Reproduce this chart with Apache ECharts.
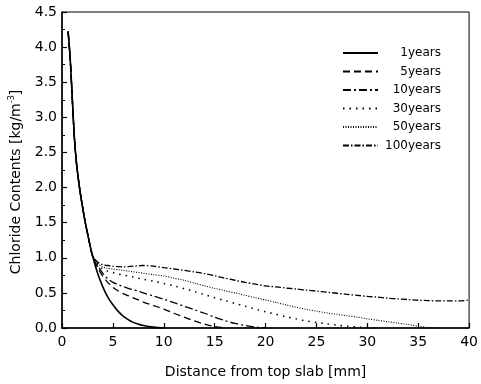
<!DOCTYPE html>
<html>
<head>
<meta charset="utf-8">
<script src="https://cdn.jsdelivr.net/npm/echarts@6/dist/echarts.min.js"></script>
<style>
  html, body { margin: 0; padding: 0; background: #fff; }
  #chart { width: 481px; height: 384px; }
</style>
</head>
<body>
<div id="chart"></div>
<script>
// Depth grid (mm) shared by all profiles
const distance = [0.6, 0.8, 1.0, 1.2, 1.4, 1.6, 1.8, 2.0, 2.25, 2.5, 2.75, 3.0,
  3.5, 4, 4.5, 5, 5.5, 6, 6.5, 7, 7.5, 8, 9, 10, 11, 12, 13, 14, 15, 16, 17, 18, 19, 20,
  21, 22, 23, 24, 25, 26, 27, 28, 29, 30, 31, 32, 33, 34, 35, 36, 37, 38, 39, 40];

// Surface zone, common to every exposure time (0.6 .. 3.0 mm)
const surface = [4.22, 3.85, 3.3, 2.75, 2.38, 2.13, 1.92, 1.74, 1.53, 1.35, 1.18, 1.03];

// Chloride content beyond 3 mm, per exposure time (kg/m3)
const years1 = [0.78, 0.59, 0.44, 0.33, 0.24, 0.17, 0.12, 0.08, 0.055, 0.035, 0.012, 0];
const years5 = [0.86, 0.74, 0.65, 0.58, 0.53, 0.49, 0.46, 0.43, 0.40, 0.37, 0.32, 0.27,
  0.21, 0.155, 0.10, 0.055, 0.02, 0];
const years10 = [0.89, 0.78, 0.70, 0.65, 0.62, 0.59, 0.565, 0.545, 0.525, 0.50, 0.455, 0.41,
  0.36, 0.31, 0.26, 0.21, 0.155, 0.105, 0.065, 0.035, 0.012, 0];
const years30 = [0.91, 0.84, 0.81, 0.79, 0.77, 0.755, 0.74, 0.725, 0.71, 0.695, 0.665, 0.635,
  0.60, 0.56, 0.52, 0.475, 0.43, 0.39, 0.35, 0.31, 0.27, 0.23, 0.195, 0.16, 0.13, 0.10,
  0.08, 0.06, 0.04, 0.025, 0.015, 0.005, 0];
const years50 = [0.92, 0.87, 0.85, 0.84, 0.83, 0.82, 0.81, 0.80, 0.79, 0.78, 0.76, 0.74,
  0.71, 0.68, 0.64, 0.60, 0.565, 0.53, 0.50, 0.465, 0.43, 0.40, 0.365, 0.33, 0.295, 0.265,
  0.24, 0.215, 0.195, 0.175, 0.155, 0.13, 0.11, 0.09, 0.07, 0.05, 0.025, 0.008, 0];
const years100 = [0.94, 0.90, 0.89, 0.88, 0.875, 0.87, 0.875, 0.88, 0.885, 0.89, 0.88, 0.86,
  0.84, 0.82, 0.80, 0.775, 0.745, 0.71, 0.68, 0.65, 0.625, 0.60, 0.585, 0.57, 0.555, 0.54,
  0.525, 0.51, 0.495, 0.48, 0.465, 0.45, 0.44, 0.425, 0.415, 0.405, 0.395, 0.39, 0.385,
  0.385, 0.385, 0.40];

const seriesNames = ['1years', '5years', '10years', '30years', '50years', '100years'];
const seriesValues = [years1, years5, years10, years30, years50, years100];
const dashes = ['solid', [7, 4], [8, 3, 2, 3], [1.5, 5], [1, 1.5], [6, 2, 1.5, 2]];
const widths = [1.6, 1.3, 1.3, 1.5, 1.1, 1.3];

function toPairs(tail) {
  const ys = surface.concat(tail);
  const pts = [];
  for (let i = 0; i < ys.length && i < distance.length; i++) pts.push([distance[i], ys[i]]);
  return pts;
}

const FONT = 'DejaVu Sans';
const chart = echarts.init(document.getElementById('chart'), null, { renderer: 'canvas' });

chart.setOption({
  backgroundColor: '#fff',
  animation: false,
  textStyle: { fontFamily: FONT, color: '#000' },
  grid: {
    left: 62, right: 8, top: 12, bottom: 56,
    show: true, borderColor: '#000', borderWidth: 1, backgroundColor: 'transparent'
  },
  legend: {
    orient: 'vertical',
    left: 342, top: 47, padding: 0,
    itemWidth: 35, itemHeight: 10, itemGap: 6.5,
    itemStyle: { opacity: 0 },
    data: seriesNames,
    formatter: n => '{r|' + n + '}',
    textStyle: {
      fontFamily: FONT, fontSize: 12, color: '#000',
      rich: { r: { width: 58, height: 12, lineHeight: 12, align: 'right', fontFamily: FONT, fontSize: 12, color: '#000' } }
    }
  },
  xAxis: {
    type: 'value', min: 0, max: 40, interval: 5,
    name: 'Distance from top slab [mm]',
    nameLocation: 'middle', nameGap: 37,
    nameTextStyle: { fontFamily: FONT, fontSize: 14, color: '#000' },
    axisLine: { lineStyle: { color: '#000', width: 1.5 } },
    axisTick: { inside: true, length: 5, lineStyle: { color: '#000', width: 1.2 } },
    axisLabel: { fontFamily: FONT, fontSize: 14, color: '#000', margin: 7 },
    splitLine: { show: false }
  },
  yAxis: {
    type: 'value', min: 0, max: 4.5, interval: 0.5,
    name: '{a|Chloride Contents [kg/m}{s|-3}{a|]}',
    nameLocation: 'middle', nameGap: 38, nameRotate: 90,
    nameTextStyle: {
      fontFamily: FONT, fontSize: 14, color: '#000', padding: [0, 24, 0, 0],
      rich: {
        a: { fontFamily: FONT, fontSize: 14, color: '#000' },
        s: { fontFamily: FONT, fontSize: 8, color: '#000', verticalAlign: 'top', padding: [0, 0, 8, 0] }
      }
    },
    axisLine: { lineStyle: { color: '#000', width: 1.5 } },
    axisTick: { inside: true, length: 5, lineStyle: { color: '#000', width: 1.2 } },
    minorTick: { show: true, splitNumber: 2, length: 3, lineStyle: { color: '#000', width: 1 } },
    axisLabel: {
      fontFamily: FONT, fontSize: 14, color: '#000', margin: 5,
      formatter: v => v.toFixed(1)
    },
    splitLine: { show: false }
  },
  series: seriesNames.map((name, i) => ({
    name: name,
    type: 'line',
    data: toPairs(seriesValues[i]),
    showSymbol: false,
    symbol: 'none',
    smooth: 0.3,
    clip: true,
    lineStyle: { color: '#000', width: widths[i], type: dashes[i] },
    itemStyle: { color: '#000' }
  }))
});
</script>
</body>
</html>
